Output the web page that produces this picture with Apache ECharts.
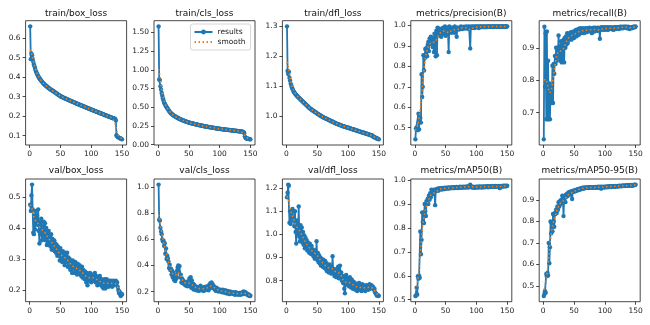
<!DOCTYPE html>
<html><head><meta charset="utf-8">
<script src="https://cdn.jsdelivr.net/npm/echarts@6/dist/echarts.min.js"></script>
<style>html,body{margin:0;padding:0;background:#fff}#c{width:650px;height:325px}</style>
</head><body><div id="c"></div>
<script>
// epochs 1..150
const epochs = [];
for (let e = 1; e <= 150; e++) epochs.push(e);
const xTicks = [0, 50, 100, 150];

const trainBoxLoss = [
.660,.492,.521,.512,.493,.478,.465,.455,.443,.432,
.425,.417,.411,.404,.399,.394,.389,.385,.381,.377,
.373,.370,.366,.363,.360,.357,.354,.352,.349,.347,
.344,.342,.339,.337,.335,.333,.331,.329,.327,.325,
.322,.320,.318,.316,.314,.311,.309,.307,.305,.302,
.301,.299,.298,.296,.295,.293,.292,.290,.289,.287,
.286,.285,.283,.282,.280,.279,.278,.276,.275,.273,
.272,.271,.269,.268,.267,.265,.264,.263,.261,.260,
.259,.257,.256,.255,.253,.252,.251,.249,.248,.247,
.245,.244,.243,.241,.240,.239,.238,.236,.235,.234,
.232,.231,.230,.229,.227,.226,.225,.224,.222,.221,
.220,.219,.217,.216,.215,.214,.212,.211,.210,.209,
.207,.206,.205,.204,.202,.201,.200,.199,.197,.196,
.195,.194,.192,.191,.190,.189,.188,.186,.185,.178,
.102,.097,.094,.092,.090,.088,.086,.085,.083,.081];

const trainClsLoss = [
1.580,.870,.862,.780,.735,.690,.652,.620,.590,.560,
.545,.530,.515,.500,.488,.475,.463,.450,.440,.428,
.420,.412,.405,.398,.392,.386,.381,.376,.371,.366,
.361,.356,.352,.348,.344,.340,.336,.332,.328,.325,
.322,.319,.316,.313,.310,.307,.304,.301,.298,.295,
.292,.290,.288,.286,.284,.282,.280,.278,.276,.274,
.272,.270,.268,.266,.264,.262,.260,.259,.257,.255,
.253,.252,.250,.248,.246,.245,.243,.242,.240,.239,
.237,.236,.234,.233,.231,.230,.228,.227,.226,.224,
.223,.221,.220,.219,.217,.216,.215,.213,.212,.211,
.210,.209,.207,.206,.205,.204,.203,.202,.201,.200,
.199,.198,.197,.196,.195,.194,.193,.192,.191,.190,
.189,.188,.187,.186,.185,.184,.183,.182,.181,.180,
.179,.178,.177,.176,.175,.174,.172,.170,.165,.155,
.110,.092,.085,.082,.080,.078,.076,.074,.072,.070];

const trainDflLoss = [
1.300,1.150,1.140,1.148,1.128,1.118,1.108,1.102,1.095,1.090,
1.085,1.081,1.078,1.075,1.072,1.070,1.067,1.065,1.063,1.061,
1.059,1.057,1.055,1.053,1.051,1.049,1.047,1.045,1.043,1.041,
1.039,1.037,1.035,1.033,1.031,1.029,1.027,1.025,1.024,1.022,
1.021,1.019,1.018,1.016,1.015,1.013,1.012,1.011,1.009,1.008,
1.006,1.005,1.004,1.002,1.001,1.000,.999,.997,.996,.995,
.994,.993,.992,.991,.990,.989,.988,.987,.986,.985,
.984,.983,.982,.981,.980,.979,.978,.977,.976,.975,
.974,.973,.972,.972,.971,.970,.969,.968,.968,.967,
.966,.965,.965,.964,.963,.963,.962,.961,.961,.960,
.959,.959,.958,.957,.957,.956,.955,.955,.954,.953,
.953,.952,.951,.951,.950,.949,.949,.948,.947,.947,
.946,.945,.945,.944,.943,.943,.942,.941,.941,.940,
.939,.939,.938,.937,.937,.936,.935,.935,.934,.933,
.930,.929,.928,.927,.926,.925,.924,.923,.922,.921];

const precision = [
.443,.497,.490,.502,.488,.568,.492,.560,.548,.525,
.762,.650,.700,.855,.780,.840,.885,.860,.890,.850,
.905,.920,.875,.935,.910,.945,.915,.935,.895,.940,
.870,.960,.930,.850,.975,.855,.990,.960,.970,.985,
.950,.975,.945,.985,.965,.990,.960,.980,.995,.950,
.985,.970,.990,.960,.870,.995,.975,.985,.965,.990,
.975,.990,.980,.965,.995,.985,.975,.945,.990,.985,
.990,.980,.988,.985,.995,.988,.983,.992,.988,.994,
.985,.993,.988,.995,.992,.984,.993,.996,.988,.888,
.992,.995,.988,.993,.996,.992,.988,.995,.992,.996,
.992,.995,.993,.988,.996,.993,.995,.994,.992,.996,
.994,.992,.996,.994,.992,.996,.994,.993,.996,.994,
.996,.994,.993,.996,.994,.996,.993,.996,.994,.996,
.994,.996,.993,.996,.994,.996,.995,.993,.996,.994,
.996,.994,.995,.996,.993,.996,.995,.996,.994,.996];

const recall = [
.618,.965,.780,.945,.680,.950,.680,.860,.680,.790,
.680,.780,.760,.730,.845,.730,.850,.820,.875,.850,
.900,.860,.900,.880,.938,.870,.905,.860,.920,.855,
.915,.860,.925,.855,.930,.900,.935,.910,.945,.915,
.940,.925,.945,.930,.948,.925,.945,.935,.950,.930,
.945,.940,.955,.935,.950,.945,.958,.940,.955,.960,
.945,.955,.948,.960,.950,.945,.958,.952,.960,.948,
.955,.960,.950,.958,.962,.952,.960,.955,.945,.960,
.955,.962,.950,.958,.962,.955,.960,.952,.962,.958,
.955,.928,.962,.958,.963,.955,.962,.958,.963,.955,
.962,.958,.963,.960,.955,.963,.958,.962,.960,.963,
.958,.962,.960,.955,.963,.960,.963,.958,.962,.963,
.960,.963,.958,.962,.965,.960,.963,.965,.960,.963,
.965,.962,.965,.963,.965,.960,.963,.965,.962,.958,
.960,.962,.963,.960,.962,.965,.963,.965,.963,.966];

const valBoxLoss = [
.475,.455,.505,.540,.460,.385,.380,.440,.395,.455,
.420,.440,.410,.460,.390,.350,.420,.380,.430,.360,
.405,.375,.420,.370,.415,.360,.400,.345,.385,.355,
.390,.345,.375,.340,.380,.330,.365,.350,.330,.360,
.325,.350,.320,.345,.310,.340,.315,.325,.295,.335,
.305,.320,.290,.325,.300,.315,.280,.320,.290,.305,
.320,.275,.305,.285,.300,.265,.290,.280,.255,.295,
.270,.285,.255,.290,.260,.275,.250,.285,.265,.260,
.280,.250,.270,.245,.275,.240,.265,.255,.235,.260,
.245,.225,.255,.215,.250,.240,.230,.255,.240,.225,
.250,.235,.245,.230,.240,.255,.225,.245,.235,.215,
.240,.230,.220,.245,.225,.215,.235,.210,.230,.205,
.225,.235,.205,.225,.235,.215,.225,.210,.230,.220,
.215,.230,.220,.210,.225,.230,.215,.225,.220,.230,
.220,.225,.210,.200,.190,.195,.185,.180,.188,.185];

const valClsLoss = [
1.020,.750,.745,.690,.660,.640,.600,.585,.590,.550,
.570,.490,.530,.450,.475,.455,.430,.380,.405,.365,
.375,.330,.360,.310,.345,.290,.330,.280,.320,.300,
.360,.385,.400,.350,.395,.310,.330,.270,.300,.265,
.285,.260,.275,.250,.270,.245,.265,.240,.280,.255,
.300,.245,.310,.230,.285,.225,.260,.215,.250,.225,
.240,.210,.235,.220,.225,.205,.230,.215,.245,.210,
.230,.215,.225,.205,.235,.210,.225,.215,.240,.220,
.235,.210,.250,.225,.265,.230,.270,.240,.255,.225,
.240,.215,.225,.205,.230,.210,.220,.200,.215,.205,
.215,.200,.210,.195,.215,.200,.205,.190,.210,.195,
.200,.185,.205,.190,.195,.180,.200,.185,.195,.190,
.185,.195,.180,.190,.175,.195,.185,.180,.190,.175,
.185,.190,.180,.175,.190,.185,.195,.180,.200,.190,
.185,.195,.180,.185,.175,.180,.170,.175,.165,.168];

const valDflLoss = [
1.160,1.180,1.215,1.210,1.050,1.100,1.045,1.090,1.100,1.110,
1.060,1.070,1.035,1.100,1.010,.960,1.060,1.020,1.000,1.120,
.990,.970,1.040,.985,1.030,.965,1.010,.955,.995,.940,
.985,.950,.975,.930,.965,.945,.920,.960,.935,.915,
.950,.920,.935,.905,.925,.895,.930,.900,.970,.890,
.920,.880,.910,.875,.900,.865,.895,.880,.860,.890,
.870,.855,.885,.850,.875,.840,.865,.850,.835,.870,
.845,.860,.830,.855,.905,.835,.850,.820,.845,.830,
.815,.850,.825,.860,.810,.840,.865,.820,.835,.800,
.820,.790,.815,.765,.745,.800,.825,.790,.810,.780,
.800,.775,.815,.790,.770,.805,.780,.765,.795,.775,
.790,.760,.785,.770,.755,.780,.765,.790,.760,.775,
.770,.755,.785,.765,.780,.760,.775,.755,.770,.780,
.765,.775,.760,.770,.785,.765,.775,.780,.770,.775,
.770,.760,.765,.750,.745,.740,.735,.738,.733,.735];

const mAP50 = [
.515,.518,.550,.522,.598,.588,.600,.592,.785,.690,
.750,.865,.825,.860,.820,.900,.870,.850,.912,.905,
.922,.900,.935,.918,.945,.928,.960,.940,.955,.945,
.960,.950,.895,.955,.962,.958,.964,.955,.965,.960,
.966,.962,.965,.960,.967,.963,.966,.962,.968,.965,
.966,.968,.964,.967,.969,.965,.968,.966,.969,.967,
.968,.970,.966,.969,.967,.970,.968,.971,.967,.970,
.968,.971,.969,.972,.968,.970,.971,.969,.972,.970,
.971,.969,.972,.970,.973,.971,.969,.972,.975,.981,
.972,.970,.971,.969,.972,.970,.968,.971,.969,.972,
.970,.972,.969,.971,.973,.970,.972,.971,.969,.973,
.971,.972,.970,.973,.971,.972,.974,.972,.970,.973,
.972,.974,.971,.973,.972,.975,.973,.972,.974,.973,
.975,.972,.974,.973,.975,.974,.972,.966,.974,.975,
.974,.975,.973,.976,.974,.975,.976,.974,.975,.976];

const mAP5095 = [
.452,.462,.475,.468,.555,.545,.560,.548,.700,.605,
.680,.800,.745,.790,.755,.835,.800,.775,.840,.835,
.855,.840,.870,.855,.890,.870,.895,.880,.900,.890,
.920,.910,.825,.905,.920,.890,.925,.915,.930,.920,
.935,.925,.938,.930,.940,.935,.905,.942,.938,.945,
.940,.946,.942,.948,.944,.950,.946,.952,.948,.954,
.950,.955,.952,.957,.953,.958,.955,.959,.956,.958,
.957,.959,.956,.960,.957,.959,.958,.960,.957,.959,
.958,.960,.957,.959,.961,.958,.960,.957,.962,.959,
.961,.958,.962,.953,.960,.962,.959,.961,.958,.962,
.960,.962,.959,.963,.961,.963,.960,.964,.962,.963,
.961,.964,.962,.965,.963,.964,.962,.966,.964,.965,
.963,.966,.964,.967,.965,.966,.964,.967,.966,.968,
.966,.967,.965,.968,.967,.969,.966,.968,.967,.969,
.968,.970,.967,.969,.968,.970,.969,.971,.970,.972];

// tick labels per panel
const ticksTrainBox = ['0.1','0.2','0.3','0.4','0.5','0.6'];
const ticksTrainCls = ['0.00','0.25','0.50','0.75','1.00','1.25','1.50'];
const ticksTrainDfl = ['1.0','1.1','1.2','1.3'];
const ticksPrecision = ['0.5','0.6','0.7','0.8','0.9','1.0'];
const ticksRecall = ['0.7','0.8','0.9'];
const ticksValBox = ['0.2','0.3','0.4','0.5'];
const ticksValCls = ['0.2','0.4','0.6','0.8','1.0'];
const ticksValDfl = ['0.8','0.9','1.0','1.1','1.2'];
const ticksMAP50 = ['0.5','0.6','0.7','0.8','0.9','1.0'];
const ticksMAP5095 = ['0.5','0.6','0.7','0.8','0.9'];

const titles = ['train/box_loss','train/cls_loss','train/dfl_loss','metrics/precision(B)','metrics/recall(B)',
  'val/box_loss','val/cls_loss','val/dfl_loss','metrics/mAP50(B)','metrics/mAP50-95(B)'];
const seriesData = [trainBoxLoss, trainClsLoss, trainDflLoss, precision, recall,
  valBoxLoss, valClsLoss, valDflLoss, mAP50, mAP5095];
const tickSets = [ticksTrainBox, ticksTrainCls, ticksTrainDfl, ticksPrecision, ticksRecall,
  ticksValBox, ticksValCls, ticksValDfl, ticksMAP50, ticksMAP5095];

// gaussian smoothing (sigma 3, reflect), as the training tool does
function gsmooth(y, sigma) {
  const r = Math.round(4 * sigma), n = y.length;
  const w = []; let s = 0;
  for (let k = -r; k <= r; k++) { const v = Math.exp(-0.5 * (k / sigma) ** 2); w.push(v); s += v; }
  const out = [];
  for (let i = 0; i < n; i++) {
    let acc = 0;
    for (let k = -r; k <= r; k++) {
      let j = i + k;
      while (j < 0 || j >= n) { if (j < 0) j = -j - 1; if (j >= n) j = 2 * n - j - 1; }
      acc += w[k + r] * y[j];
    }
    out.push(acc / s);
  }
  return out;
}

const LEFTS = [25.6, 154.0, 282.4, 410.8, 539.2];
const W = 101;
const TOPS = [20.7, 179];
const HS = [124.3, 122.7];
const FONT = 'DejaVu Sans';

const xMin = epochs[0] - 0.05 * (epochs[epochs.length - 1] - epochs[0]);
const xMax = epochs[epochs.length - 1] + 0.05 * (epochs[epochs.length - 1] - epochs[0]);

const grids = [], xAxes = [], yAxes = [], series = [], graphics = [];
seriesData.forEach((d, i) => {
  const col = i % 5, row = Math.floor(i / 5);
  const sm = gsmooth(d, 3);
  const all = d.concat(sm);
  const lo = Math.min(...all), hi = Math.max(...all), pad = 0.05 * (hi - lo);
  const ticks = tickSets[i];
  const tickVals = ticks.map(parseFloat);
  grids.push({left: LEFTS[col], top: TOPS[row], width: W, height: HS[row], show: true,
    borderColor: '#1a1a1a', borderWidth: 0.8, containLabel: false});
  xAxes.push({type: 'value', gridIndex: i, min: xMin, max: xMax,
    axisLine: {show: false, onZero: false}, splitLine: {show: false},
    axisTick: {show: true, inside: false, length: 3, customValues: xTicks, lineStyle: {color: '#1a1a1a', width: 0.8}},
    axisLabel: {customValues: xTicks, margin: 5, fontSize: 7.5, color: '#222', fontFamily: FONT,
      formatter: v => String(Math.round(v))}});
  yAxes.push({type: 'value', gridIndex: i, min: lo - pad, max: hi + pad,
    axisLine: {show: false, onZero: false}, splitLine: {show: false},
    axisTick: {show: true, inside: false, length: 3, customValues: tickVals, lineStyle: {color: '#1a1a1a', width: 0.8}},
    axisLabel: {customValues: tickVals, margin: 5, fontSize: 7.5, color: '#222', fontFamily: FONT,
      formatter: v => { const t = ticks.find(s => Math.abs(parseFloat(s) - v) < 1e-9); return t !== undefined ? t : String(v); }}});
  series.push({type: 'line', name: 'results', xAxisIndex: i, yAxisIndex: i,
    data: epochs.map((e, k) => [e, d[k]]), symbol: 'circle', symbolSize: 4.4, showSymbol: true, showAllSymbol: true,
    lineStyle: {width: 1.8, color: '#1f77b4'}, itemStyle: {color: '#1f77b4'}, z: 2, animation: false});
  series.push({type: 'line', name: 'smooth', xAxisIndex: i, yAxisIndex: i,
    data: epochs.map((e, k) => [e, sm[k]]), symbol: 'none', showSymbol: false,
    lineStyle: {width: 1.5, color: '#ff7f0e', type: [1.5, 2.5], cap: 'butt'}, itemStyle: {color: '#ff7f0e'}, z: 3, animation: false});
  graphics.push({type: 'text', x: LEFTS[col] + W / 2, y: row === 0 ? 13.3 : 170.7,
    style: {text: titles[i], fontSize: 9, fontFamily: FONT, fill: '#111', align: 'center', verticalAlign: 'middle',
      textAlign: 'center', textVerticalAlign: 'middle'}});
});

const chart = echarts.init(document.getElementById('c'), null, {renderer: 'canvas'});
chart.setOption({
  animation: false,
  backgroundColor: '#fff',
  grid: grids, xAxis: xAxes, yAxis: yAxes, series: series, graphic: graphics,
  legend: {data: ['results', {name: 'smooth', itemStyle: {opacity: 0}}], orient: 'vertical', left: 190.5, top: 24,
    itemWidth: 18, itemHeight: 6, itemGap: 2, padding: [4, 5, 4, 3],
    backgroundColor: 'rgba(255,255,255,0.85)', borderColor: '#ccc', borderWidth: 0.8, borderRadius: 2,
    textStyle: {fontSize: 7.5, fontFamily: FONT, color: '#222'}, selectedMode: false}
});
</script></body></html>
